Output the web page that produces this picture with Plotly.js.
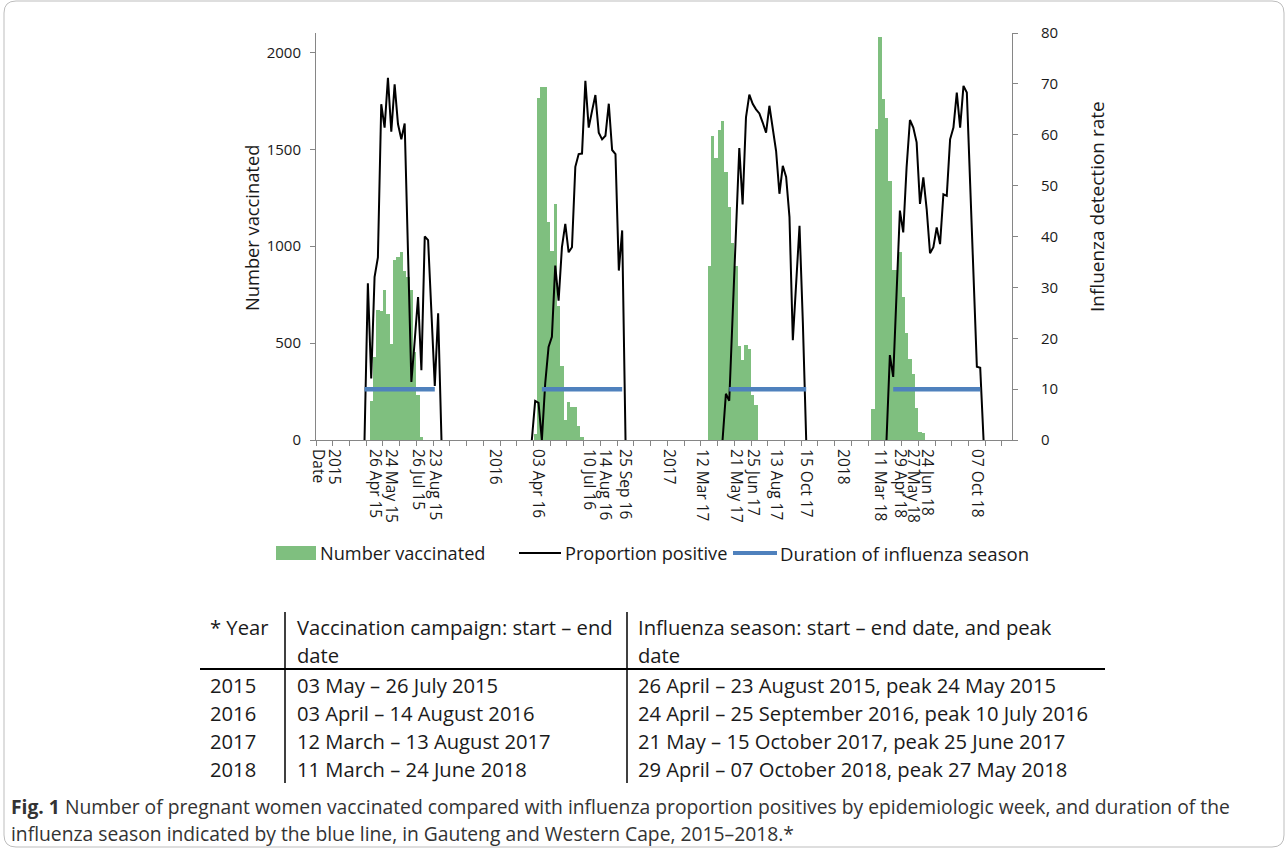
<!DOCTYPE html>
<html>
<head>
<meta charset="utf-8">
<script src="https://cdn.plot.ly/plotly-3.0.1.min.js"></script>
<style>
  html, body { margin: 0; padding: 0; background: #ffffff; }
  #chart { width: 1287px; height: 852px; }
</style>
</head>
<body>
<div id="chart"></div>
<script>
// ---------------- DATA ----------------
// x axis = epidemiological week index in the 2015-2018 series (208 weeks)
const weekCount = 208;
const tickLabels = ["Date", "2015", "26 Apr 15", "24 May 15", "26 Jul 15", "23 Aug 15",
  "2016", "03 Apr 16", "10 Jul 16", "14 Aug 16", "25 Sep 16",
  "2017", "12 Mar 17", "21 May 17", "25 Jun 17", "13 Aug 17", "15 Oct 17",
  "2018", "11 Mar 18", "29 Apr 18", "27 May 18", "24 Jun 18", "07 Oct 18"];
const tickWeeks = [0, 5, 17, 22, 30, 35,
  53, 66, 81, 86, 92,
  105, 115, 125, 130, 137, 146,
  157, 168, 174, 178, 182, 197];

// Number vaccinated (left axis) per week, by season
const vaccStartWeek = [16, 65, 117, 166];
const vaccinated2015 = [202, 428, 672, 665, 775, 651, 493, 930, 942, 968, 870, 843, 775, 454, 231, 17];
const vaccinated2016 = [31, 1765, 1820, 1820, 1127, 977, 1220, 694, 380, 103, 197, 171, 171, 72, 17];
const vaccinated2017 = [900, 1568, 1456, 1597, 1648, 1383, 1203, 1019, 900, 483, 411, 492, 471, 231, 180];
const vaccinated2018 = [158, 1607, 2077, 1760, 1659, 1336, 877, 877, 971, 737, 552, 420, 339, 163, 43, 34];

// Proportion positive (right axis) per week, by season
const posStartWeek = [14, 64, 121, 170];
const positive2015 = [0, 30.8, 12.1, 32.0, 35.9, 66.0, 61.4, 71.2, 60.6, 69.9, 62.1, 59.1, 62.2, 36.8, 11.4, 19.5, 28.1, 13.7, 40.0, 39.3, 24.9, 10.6, 24.9, 0];
const positive2016 = [0, 7.7, 7.3, 0, 11.1, 18.3, 20.3, 34.3, 27.4, 37.9, 42.5, 36.9, 37.9, 53.7, 56.2, 56.3, 70.6, 61.4, 64.7, 67.8, 60.4, 59.1, 59.8, 66.1, 57.0, 56.2, 33.3, 41.2, 0];
const positive2017 = [0, 9.1, 7.7, 24.8, 40.5, 57.4, 46.3, 63.4, 67.9, 66.1, 65.0, 64.2, 62.4, 60.4, 65.7, 61.7, 56.8, 48.4, 53.9, 51.7, 43.8, 19.6, 30.7, 42.1, 23.0, 0];
const positive2018 = [0, 16.7, 12.4, 29.0, 45.1, 40.8, 53.6, 62.9, 61.4, 58.5, 46.4, 51.6, 45.4, 36.7, 37.9, 41.8, 38.5, 48.3, 48.0, 59.1, 61.4, 68.3, 61.4, 69.6, 68.3, 50.3, 32.3, 14.4, 14.2, 0];

// Duration of influenza season (drawn at level 10 on right axis)
const seasonStartWeek = [14, 67, 123, 172];
const seasonEndWeek = [35, 91, 146, 198];
const seasonLevel = 10;

// Legend names
const seriesNames = ["Number vaccinated", "Proportion positive", "Duration of influenza season"];

// Table below the chart
const tableHeader = ["* Year", "Vaccination campaign: start \u2013 end", "Influenza season: start \u2013 end date, and peak"];
const tableHeader2 = ["", "date", "date"];
const tableYears = ["2015", "2016", "2017", "2018"];
const campaignDates = ["03 May \u2013 26 July 2015", "03 April \u2013 14 August 2016", "12 March \u2013 13 August 2017", "11 March \u2013 24 June 2018"];
const seasonDates = ["26 April \u2013 23 August 2015, peak 24 May 2015", "24 April \u2013 25 September 2016, peak 10 July 2016", "21 May \u2013 15 October 2017, peak 25 June 2017", "29 April \u2013 07 October 2018, peak 27 May 2018"];

const captionLine1 = "<b>Fig. 1</b> Number of pregnant women vaccinated compared with influenza proportion positives by epidemiologic week, and duration of the";
const captionLine2 = "influenza season indicated by the blue line, in Gauteng and Western Cape, 2015\u20132018.*";

// ---------------- BUILD ----------------
const vaccSeries = [vaccinated2015, vaccinated2016, vaccinated2017, vaccinated2018];
const posSeries = [positive2015, positive2016, positive2017, positive2018];

const barX = [], barY = [];
vaccSeries.forEach((arr, s) => arr.forEach((v, i) => { barX.push(vaccStartWeek[s] + i); barY.push(v); }));

const lineX = [], lineY = [];
posSeries.forEach((arr, s) => {
  arr.forEach((v, i) => { lineX.push(posStartWeek[s] + i); lineY.push(v); });
  lineX.push(null); lineY.push(null);
});

const seasX = [], seasY = [];
seasonStartWeek.forEach((st, s) => {
  seasX.push(st, seasonEndWeek[s], null);
  seasY.push(seasonLevel, seasonLevel, null);
});

// Pixel helpers (plot area: x 316..1012, y 33..440)
const L = 316, R = 1012, T = 33, B = 440;
const PX = p => (p - L) / (R - L);
const PY = p => (B - p) / (B - T);

const FONT = "Open Sans, Lato, sans-serif";
const TXT = "#1a1a1a";
const AXC = "#868686";
const GREEN = "#7fbf7f";
const BLUE = "#4f81bd";

const traces = [
  { type: "bar", name: seriesNames[0], x: barX, y: barY, marker: { color: GREEN, line: { width: 0 } }, yaxis: "y", hoverinfo: "x+y" },
  { type: "scatter", mode: "lines", name: seriesNames[1], x: lineX, y: lineY, yaxis: "y2", connectgaps: false, line: { color: "#000000", width: 2 } },
  { type: "scatter", mode: "lines", name: seriesNames[2], x: seasX, y: seasY, yaxis: "y2", connectgaps: false, line: { color: BLUE, width: 4.5 } }
];

const annotations = [];
const shapes = [];
function txt(text, x, y, size, opts) {
  annotations.push(Object.assign({
    text: text, xref: "paper", yref: "paper", x: PX(x), y: PY(y),
    xanchor: "left", yanchor: "middle", showarrow: false,
    font: { family: FONT, size: size, color: TXT }
  }, opts || {}));
}

// Axis titles
txt("Number vaccinated", 251, 228, 18.3, { xanchor: "center", textangle: -90 });
txt("Influenza detection rate", 1097, 207, 19, { xanchor: "center", textangle: -90 });

// Legend
shapes.push({ type: "rect", xref: "paper", yref: "paper", x0: PX(276), x1: PX(316), y0: PY(560), y1: PY(546), fillcolor: GREEN, line: { width: 0 } });
shapes.push({ type: "line", xref: "paper", yref: "paper", x0: PX(519), x1: PX(561), y0: PY(553), y1: PY(553), line: { color: "#000", width: 2 } });
shapes.push({ type: "line", xref: "paper", yref: "paper", x0: PX(733), x1: PX(777), y0: PY(553), y1: PY(553), line: { color: BLUE, width: 4 } });
txt(seriesNames[0], 318, 553, 18.2);
txt(seriesNames[1], 563, 553, 18.2);
txt(seriesNames[2], 778, 553, 18.6);

// Table
const colX = [208, 295, 636];
tableHeader.forEach((h, c) => txt(h, colX[c], 627, 20.2));
tableHeader2.forEach((h, c) => { if (h) txt(h, colX[c], 655, 20.2); });
const rowY = [685, 713, 741, 769];
tableYears.forEach((yv, r) => {
  txt(yv, colX[0], rowY[r], 20.2);
  txt(campaignDates[r], colX[1], rowY[r], 20.2);
  txt(seasonDates[r], colX[2], rowY[r], 20.2);
});
shapes.push({ type: "line", xref: "paper", yref: "paper", x0: PX(200), x1: PX(1105), y0: PY(669), y1: PY(669), line: { color: "#000", width: 2 } });
shapes.push({ type: "line", xref: "paper", yref: "paper", x0: PX(285), x1: PX(285), y0: PY(612), y1: PY(783), line: { color: "#000", width: 1.5 } });
shapes.push({ type: "line", xref: "paper", yref: "paper", x0: PX(627), x1: PX(627), y0: PY(612), y1: PY(783), line: { color: "#000", width: 1.5 } });

// Caption
txt(captionLine1, 9, 806, 19.3, { font: { family: FONT, size: 19.3, color: "#333" } });
txt(captionLine2, 9, 833, 19.3, { font: { family: FONT, size: 19.3, color: "#333" } });

// Outer rounded frame
(function () {
  const x0 = 4, x1 = 1284, y0 = 1, y1 = 847, r = 12;
  const p = (x, y) => PX(x) + "," + PY(y);
  const d = "M" + p(x0 + r, y0) + " L" + p(x1 - r, y0) + " Q" + p(x1, y0) + " " + p(x1, y0 + r) +
    " L" + p(x1, y1 - r) + " Q" + p(x1, y1) + " " + p(x1 - r, y1) +
    " L" + p(x0 + r, y1) + " Q" + p(x0, y1) + " " + p(x0, y1 - r) +
    " L" + p(x0, y0 + r) + " Q" + p(x0, y0) + " " + p(x0 + r, y0) + " Z";
  shapes.push({ type: "path", xref: "paper", yref: "paper", path: d, line: { color: "#bdbdbd", width: 1 }, layer: "below" });
})();

const layout = {
  width: 1287, height: 852, autosize: false,
  margin: { l: L, r: 1287 - R, t: T, b: 852 - B, pad: 0 },
  paper_bgcolor: "#ffffff", plot_bgcolor: "#ffffff",
  showlegend: false, bargap: 0,
  font: { family: FONT, color: TXT },
  xaxis: {
    range: [-0.5, weekCount - 0.5], tickmode: "array", tickvals: tickWeeks, ticktext: tickLabels,
    tickangle: 90, ticks: "", showgrid: false, zeroline: false,
    showline: true, linecolor: AXC, linewidth: 1,
    tickfont: { family: FONT, size: 15.5, color: TXT }, ticklabelstandoff: 5,
    minor: { tickmode: "linear", tick0: -0.5, dtick: 5, ticks: "outside", ticklen: 5, tickcolor: AXC, tickwidth: 1, showgrid: false }
  },
  yaxis: {
    range: [0, 2100], tickmode: "array", tickvals: [0, 500, 1000, 1500, 2000],
    ticks: "outside", ticklen: 5, tickcolor: AXC, showline: true, linecolor: AXC, linewidth: 1,
    showgrid: false, zeroline: false, tickfont: { family: FONT, size: 15, color: TXT }, ticklabelstandoff: 6
  },
  yaxis2: {
    range: [0, 80], overlaying: "y", side: "right", tickmode: "linear", tick0: 0, dtick: 10,
    ticks: "outside", ticklen: 5, tickcolor: AXC, showline: true, linecolor: AXC, linewidth: 1,
    showgrid: false, zeroline: false, tickfont: { family: FONT, size: 15, color: TXT }, ticklabelstandoff: 20
  },
  annotations: annotations,
  shapes: shapes
};

Plotly.newPlot("chart", traces, layout, { displayModeBar: false, staticPlot: true });
</script>
</body>
</html>
